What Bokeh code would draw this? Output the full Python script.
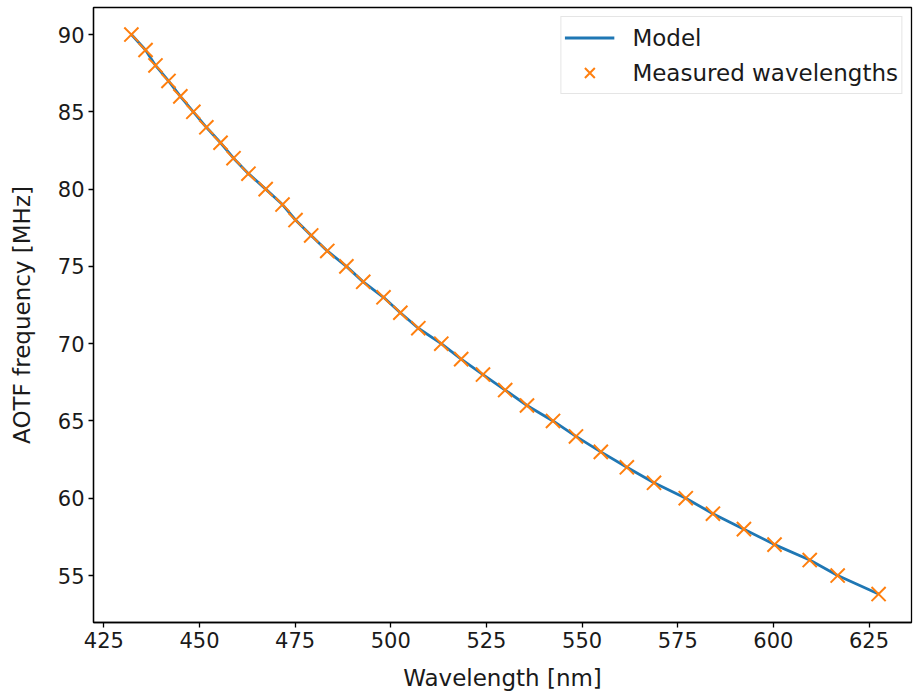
from bokeh.plotting import figure
from bokeh.models import Range1d, FixedTicker, Legend, LegendItem
from bokeh.embed import file_html
from bokeh.resources import INLINE

# Measured AOTF frequencies [MHz] and corresponding wavelengths [nm]
frequency_mhz = [90, 89, 88, 87, 86, 85, 84, 83, 82, 81, 80, 79, 78, 77, 76, 75,
                 74, 73, 72, 71, 70, 69, 68, 67, 66, 65, 64, 63, 62, 61, 60, 59,
                 58, 57, 56, 55, 53.8]
wavelength_nm = [432.2, 435.9, 438.5, 441.9, 445.0, 448.4, 451.8, 455.5, 458.9,
                 462.8, 467.3, 471.7, 475.1, 479.2, 483.4, 488.4, 492.8, 498.1,
                 502.5, 507.2, 513.2, 518.4, 524.1, 529.9, 535.6, 542.4, 548.4,
                 554.9, 561.7, 568.8, 577.1, 584.2, 592.3, 600.3, 609.5, 616.8,
                 627.5]

x_ticks = [425, 450, 475, 500, 525, 550, 575, 600, 625]
y_ticks = [55, 60, 65, 70, 75, 80, 85, 90]

FONT = "DejaVu Sans"
TICK_FS = "21px"
LABEL_FS = "23px"

p = figure(width=913, height=700, output_backend="svg", toolbar_location=None,
           x_range=Range1d(422.3, 636.1), y_range=Range1d(51.96, 91.75),
           min_border_left=93, min_border_right=2, min_border_top=7,
           min_border_bottom=78)
p.grid.visible = False
p.outline_line_color = "black"
p.outline_line_width = 1.3
p.background_fill_color = "white"
p.border_fill_color = "white"

for ax, ticks in ((p.xaxis[0], x_ticks), (p.yaxis[0], y_ticks)):
    ax.ticker = FixedTicker(ticks=ticks)
    ax.minor_tick_line_color = None
    ax.major_tick_in = 0
    ax.major_tick_out = 5
    ax.major_tick_line_width = 1.3
    ax.axis_line_width = 1.3
    ax.major_label_text_font = FONT
    ax.major_label_text_font_size = TICK_FS
    ax.major_label_text_color = "#1a1a1a"
    ax.axis_label_text_font = FONT
    ax.axis_label_text_font_size = LABEL_FS
    ax.axis_label_text_font_style = "normal"
    ax.axis_label_text_color = "#1a1a1a"
    ax.major_label_standoff = 4

p.xaxis.axis_label = "Wavelength [nm]"
p.yaxis.axis_label = "AOTF frequency [MHz]"
p.xaxis.axis_label_standoff = 14
p.yaxis.axis_label_standoff = 20

line_r = p.line(wavelength_nm, frequency_mhz, line_color="#1f77b4", line_width=2.8)
pts_r = p.scatter(wavelength_nm, frequency_mhz, marker="x", size=20,
                  line_color="#ff7f0e", line_width=2)

legend = Legend(items=[LegendItem(label="Model", renderers=[line_r]),
                       LegendItem(label="Measured wavelengths", renderers=[pts_r])],
                location="top_right")
legend.label_text_font = FONT
legend.label_text_font_size = LABEL_FS
legend.label_text_color = "#1a1a1a"
legend.glyph_width = 50
legend.glyph_height = 35
legend.label_height = 35
legend.label_standoff = 18
legend.spacing = 0
legend.padding = 3
legend.margin = 9
legend.border_line_color = "#cccccc"
legend.border_line_width = 1.3
legend.background_fill_alpha = 0.8
p.add_layout(legend)

open("out.html", "w").write(file_html(p, INLINE))
